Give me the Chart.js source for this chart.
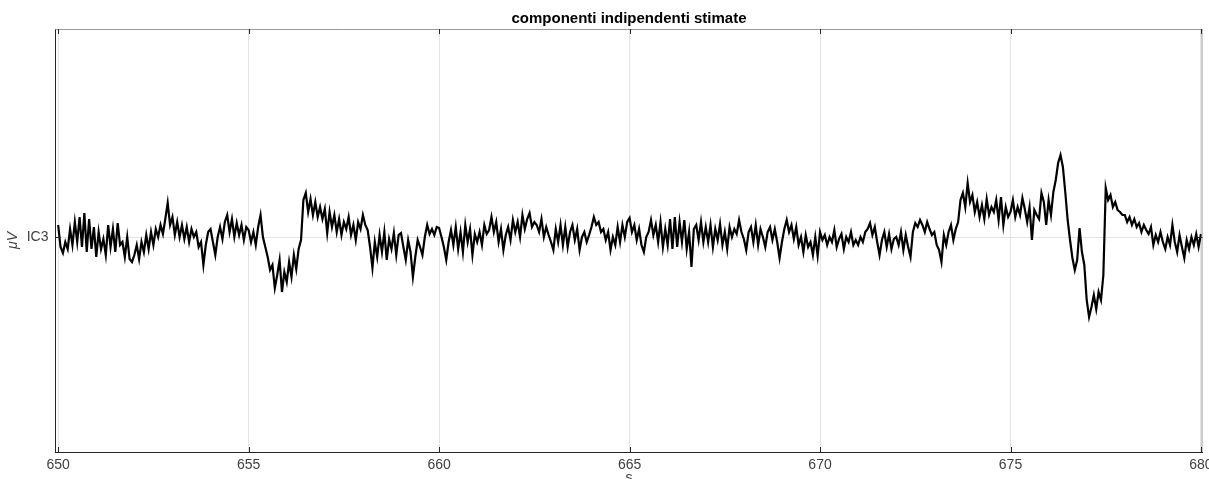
<!DOCTYPE html>
<html>
<head>
<meta charset="utf-8">
<script src="https://cdn.jsdelivr.net/npm/chart.js@4.4.1/dist/chart.umd.min.js"></script>
<style>
  html, body { margin: 0; padding: 0; background: #ffffff; }
  #wrap { width: 1209px; height: 479px; }
</style>
</head>
<body>
<div id="wrap"><canvas id="c" width="1209" height="479"></canvas></div>
<script>
// ---- data ----
const chartTitle = 'componenti indipendenti stimate';
const xAxisTitle = 's';
const yAxisTitle = 'μV';
const seriesName = 'IC3';
const xTickValues = [650, 655, 660, 665, 670, 675, 680];
const yTickValues = [0];
const yTickLabels = ['IC3'];
const sampleStart = 650;      // s
const sampleRate = 16;        // samples per second
const ic3Values = [
  12, -10, -16, -5, -12, 8, -8, 15, -5, 20, -10, 24, -15, 18, -12, 10,
  -20, 5, -12, -2, -18, 12, -10, 8, -15, 14, -8, -5, -20, 0, -22, -25,
  -18, -8, -22, -5, -15, 2, -12, 5, -8, 8, 0, 12, 3, 18, 34, 12,
  20, 2, 15, 0, 12, -2, 10, -5, 8, 0, 5, -10, -5, -28, -8, 5,
  8, -5, -18, 0, 10, -2, 15, 22, 5, 18, 0, 14, 2, 12, -3, 10,
  7, -5, 5, -8, 10, 22, 0, -10, -20, -33, -28, -51, -38, -23, -55, -35,
  -45, -25, -40, -18, -32, -12, -3, 37, 44, 25, 38, 22, 35, 20, 30, 18,
  28, 4, 25, 10, 22, 5, 18, 2, 15, 8, 20, 2, 12, -3, 15, 8,
  22, 12, 7, -10, -31, -5, -20, 2, -15, 5, -23, -2, -12, 4, -18, 2,
  4, -10, -23, -3, -15, -40, -20, -3, -10, -18, 0, 12, 3, 8, 2, 10,
  9, 0, -10, -23, -5, 7, -8, 10, -12, 5, -15, 12, -5, 8, -18, 3,
  -5, 5, -8, 12, 3, 7, 20, 5, 15, -5, 8, -13, 2, 10, -3, 17,
  5, 15, 0, 22, 8, 18, 24, 10, 15, 12, 5, 18, 0, 10, 2, -5,
  -13, 8, -5, 12, -8, 10, -10, 5, 12, -3, 8, -13, 0, 5, -5, 2,
  10, 20, 12, 15, 5, 8, -3, 5, -13, 0, -8, 10, -5, 12, 0, 15,
  19, 5, 12, -3, 8, -8, -15, 0, 5, 17, 2, 12, -5, 15, -10, 8,
  -8, 18, -12, 20, -10, 15, -5, 17, -12, 5, -30, 8, 12, -3, 15, -5,
  10, -5, 12, -10, 8, -3, 13, -8, 5, -12, 10, 0, 8, 3, 17, 5,
  -2, -13, 5, 10, -5, 12, -8, 8, 0, -10, 5, 10, -3, 8, -5, -21,
  -5, 8, 17, 5, 12, -2, 10, -8, 0, -15, 2, -10, -5, -18, 0, -19,
  5, -3, 2, -8, 0, -5, 7, -10, -2, 3, -12, 0, -5, 5, -8, -3,
  -8, 0, -5, 5, 8, 14, 2, 10, -5, -18, -3, 5, -10, 3, -12, -2,
  0, -8, 5, -13, 2, -10, -20, 5, 14, 10, 17, 12, 5, 15, 8, 2,
  5, -8, -13, -25, 2, -8, 5, 12, -3, 8, 15, 37, 44, 30, 54, 35,
  42, 25, 35, 20, 32, 18, 38, 22, 30, 25, 37, 17, 40, 12, 30, 20,
  25, 37, 20, 30, 22, 39, 28, 15, 30, -3, 27, 22, 18, 44, 35, 12,
  37, 22, 45, 57, 74, 82, 70, 45, 17, -3, -21, -33, -23, 9, -15, -28,
  -63, -80, -70, -58, -72, -55, -63, -38, 49, 37, 42, 30, 35, 27, 25, 22,
  22, 15, 20, 12, 18, 10, 14, 5, 12, 7, 3, 10, -8, 2, -5, 5,
  -5, -12, 0, -8, 12, -5, -15, 2, -10, -21, -3, -12, 0, -8, 3, -10,
  3
];
const xRange = [649.93, 680.04];
const yRange = [-215, 208];

// ---- build dataset from the arrays ----
const points = ic3Values.map((v, i) => ({ x: sampleStart + i / sampleRate, y: v }));

const axisDark = '#262626';
const axisLight = '#9a9a9a';
const gridCol = '#e3e3e3';
const textCol = '#404040';
const baseFont = 'Liberation Sans, Arial, Helvetica, sans-serif';

const framePlugin = {
  id: 'frame',
  afterDraw(chart) {
    const { ctx, chartArea: a, scales } = chart;
    ctx.save();
    ctx.lineWidth = 1;
    ctx.strokeStyle = axisLight;
    ctx.beginPath();
    ctx.moveTo(a.left, a.top + 0.5); ctx.lineTo(a.right, a.top + 0.5);
    ctx.moveTo(a.right - 0.5, a.top); ctx.lineTo(a.right - 0.5, a.bottom);
    ctx.stroke();
    const tl = 5;
    ctx.strokeStyle = axisDark;
    ctx.beginPath();
    scales.x.ticks.forEach(t => {
      const px = Math.round(scales.x.getPixelForValue(t.value)) + 0.5;
      ctx.moveTo(px, a.bottom); ctx.lineTo(px, a.bottom - tl);
      ctx.moveTo(px, a.top); ctx.lineTo(px, a.top + tl);
    });
    scales.y.ticks.forEach(t => {
      const py = Math.round(scales.y.getPixelForValue(t.value)) + 0.5;
      ctx.moveTo(a.left, py); ctx.lineTo(a.left + tl, py);
      ctx.moveTo(a.right, py); ctx.lineTo(a.right - tl, py);
    });
    ctx.stroke();
    ctx.restore();
  }
};

new Chart(document.getElementById('c'), {
  type: 'line',
  data: {
    datasets: [{
      label: seriesName,
      data: points,
      borderColor: '#000000',
      borderWidth: 2.2,
      borderJoinStyle: 'miter',
      pointRadius: 0,
      tension: 0,
      fill: false
    }]
  },
  options: {
    responsive: false,
    animation: false,
    layout: { padding: { left: 0, right: 6.5, top: 0, bottom: 0 } },
    plugins: {
      legend: { display: false },
      tooltip: { enabled: false },
      title: {
        display: true,
        text: chartTitle,
        fullSize: false,
        color: '#000000',
        font: { family: baseFont, size: 15, weight: 'bold' },
        padding: { top: 10, bottom: 1 }
      }
    },
    scales: {
      x: {
        type: 'linear',
        min: xRange[0],
        max: xRange[1],
        afterBuildTicks: s => { s.ticks = xTickValues.map(v => ({ value: v })); },
        afterFit: s => { s.height = 27; s.paddingLeft = 0; s.paddingRight = 0; },
        ticks: {
          color: textCol,
          font: { family: baseFont, size: 14 },
          padding: 5,
          maxRotation: 0,
          autoSkip: false,
          callback: v => String(v)
        },
        grid: { color: gridCol, lineWidth: 1, drawTicks: false },
        border: { display: true, color: axisDark, width: 1 },
        title: {
          display: true,
          text: xAxisTitle,
          color: textCol,
          font: { family: baseFont, size: 14 },
          padding: { top: 0, bottom: -8 }
        }
      },
      y: {
        type: 'linear',
        min: yRange[0],
        max: yRange[1],
        afterBuildTicks: s => { s.ticks = yTickValues.map(v => ({ value: v })); },
        afterFit: s => { s.width = 55.5; s.paddingTop = 0; s.paddingBottom = 0; },
        ticks: {
          color: textCol,
          font: { family: baseFont, size: 14 },
          padding: 7,
          callback: (v) => yTickLabels[yTickValues.indexOf(v)]
        },
        grid: { color: gridCol, lineWidth: 1, drawTicks: false },
        border: { display: true, color: axisDark, width: 1 },
        title: {
          display: true,
          text: yAxisTitle,
          color: textCol,
          font: { family: baseFont, size: 14, style: 'italic' },
          padding: { top: 5, bottom: 0 }
        }
      }
    }
  },
  plugins: [framePlugin]
});
</script>
</body>
</html>
